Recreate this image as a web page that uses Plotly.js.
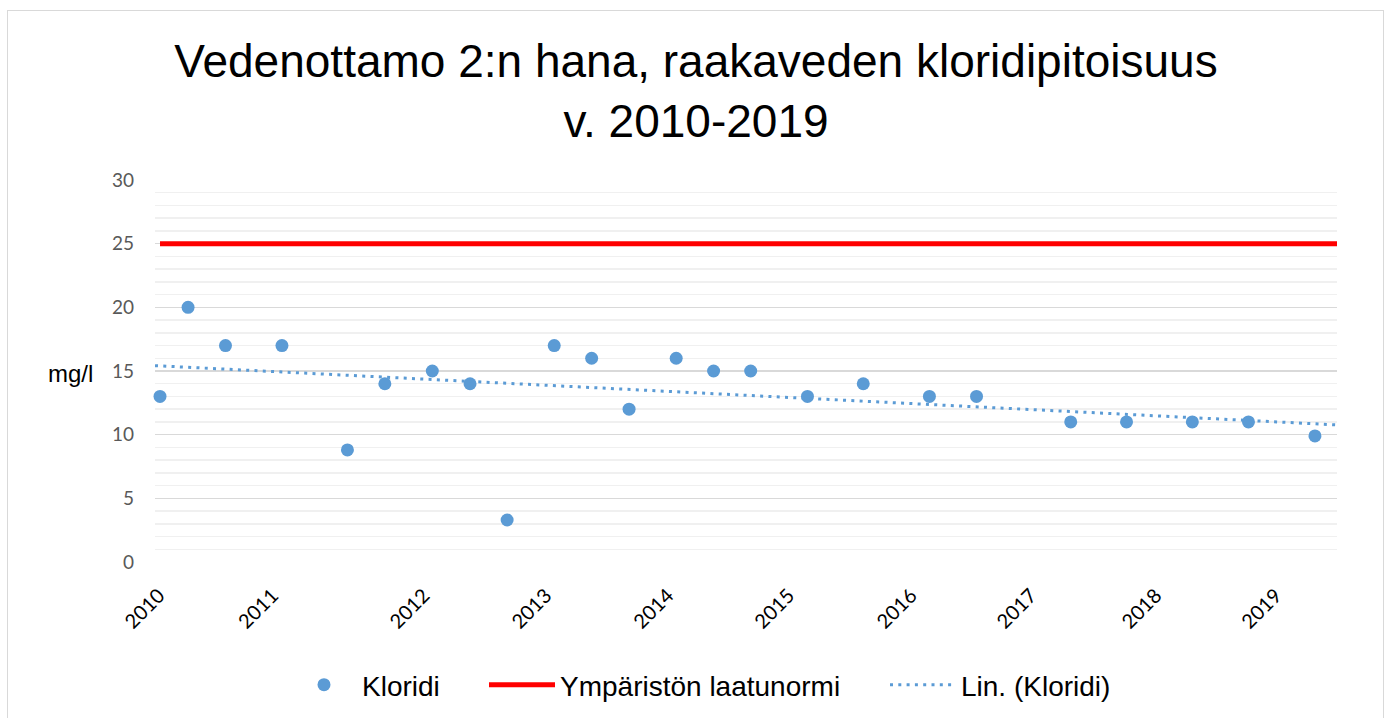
<!DOCTYPE html>
<html>
<head>
<meta charset="utf-8">
<script src="https://cdn.plot.ly/plotly-3.0.1.min.js"></script>
<style>
html,body{margin:0;padding:0;background:#fff;}
#wrap{position:relative;width:1392px;height:718px;}
#chart{width:1392px;height:718px;}
#frame{position:absolute;left:7px;top:10px;width:1377px;height:720px;border:1.5px solid #d9d9d9;pointer-events:none;box-sizing:border-box;}
</style>
</head>
<body>
<div id="wrap"><div id="chart"></div><div id="frame"></div></div>
<script>
// Sample dates (read from the horizontal positions of the points)
const sampleDates = [
  '2010-01-01','2010-03-26','2010-07-16',
  '2011-01-01','2011-07-16','2011-11-05',
  '2012-03-26','2012-07-17','2012-11-05',
  '2013-03-26','2013-07-16','2013-11-05',
  '2014-03-26','2014-07-16','2014-11-04',
  '2015-04-23','2015-10-07',
  '2016-04-22','2016-09-10',
  '2017-06-19','2017-12-03',
  '2018-06-18','2018-12-03',
  '2019-06-20'
];
// Chloride, mg/l
const chloride = [
  13, 20, 17,
  17, 8.8, 14,
  15, 14, 3.3,
  17, 16, 12,
  16, 15, 15,
  13, 14,
  13, 13,
  11, 11,
  11, 11,
  9.9
];
// Environmental quality norm, mg/l
const normValue = 25;
// Year tick labels and where they sit
const yearLabels = ['2010','2011','2012','2013','2014','2015','2016','2017','2018','2019'];
const yearTickDates = ['2009-12-29','2010-12-04','2012-03-01','2013-03-01','2014-03-01',
                       '2015-02-26','2016-02-27','2017-02-20','2018-03-01','2019-02-23'];
const xRange = ['2009-12-17','2019-08-25'];
const yTicks = [0,5,10,15,20,25,30];

// Linear trend (least squares) of chloride against time
const toMs = d => Date.parse(d + 'T00:00:00Z');
const tx = sampleDates.map(toMs);
const n = tx.length;
const mx = tx.reduce((a,b)=>a+b,0)/n;
const my = chloride.reduce((a,b)=>a+b,0)/n;
let sxy = 0, sxx = 0;
for (let i=0;i<n;i++){ sxy += (tx[i]-mx)*(chloride[i]-my); sxx += (tx[i]-mx)*(tx[i]-mx); }
const slope = sxy/sxx;
const icpt = my - slope*mx;
const trendX = xRange;
const trendY = xRange.map(d => icpt + slope*toMs(d));

const blue = '#5b9bd5';
const traces = [
  {
    type:'scatter', mode:'markers', name:'Kloridi',
    x: sampleDates, y: chloride,
    marker:{color:blue, size:13},
    cliponaxis:false, legend:'legend'
  },
  {
    type:'scatter', mode:'lines', name:'Ympäristön laatunormi',
    x:[sampleDates[0], xRange[1]], y:[normValue, normValue],
    line:{color:'#ff0000', width:5}, legend:'legend2'
  },
  {
    type:'scatter', mode:'lines', name:'Lin. (Kloridi)',
    x: trendX, y: trendY,
    line:{color:blue, width:3, dash:'3px,5.3px'}, legend:'legend3'
  }
];

const legFont = {family:'Liberation Sans, Arial, sans-serif', size:28, color:'#000'};
const legBase = (xpx) => ({
  orientation:'h', x:xpx/1392, xanchor:'left', xref:'container',
  y:1-660/718, yref:'container', yanchor:'top',
  font:legFont, itemwidth:66, bgcolor:'rgba(0,0,0,0)'
});

const layout = {
  width:1392, height:718,
  paper_bgcolor:'#fff', plot_bgcolor:'#fff',
  margin:{l:155, r:55, t:180, b:156},
  title:{
    text:'Vedenottamo 2:n hana, raakaveden kloridipitoisuus<br>v. 2010-2019',
    font:{family:'Liberation Sans, Arial, sans-serif', size:46, color:'#000'},
    x:0.5, xref:'container', xanchor:'center',
    y:1-77/718, yref:'container', yanchor:'top'
  },
  showlegend:true,
  legend: legBase(286),
  legend2: legBase(484),
  legend3: legBase(885),
  xaxis:{
    type:'date', range:xRange,
    tickmode:'array', tickvals:yearTickDates, ticktext:yearLabels,
    tickangle:-45, ticks:'', showgrid:false, zeroline:false, showline:false,
    tickfont:{family:'Lato, Carlito, sans-serif', size:20, color:'#000'},
    ticklabelstandoff:17
  },
  yaxis:{
    range:[0,30], tickmode:'array', tickvals:yTicks,
    showgrid:true, gridcolor:'#d9d9d9', gridwidth:1.3,
    zeroline:false, showline:false, ticks:'',
    tickfont:{family:'Lato, Carlito, sans-serif', size:19, color:'#595959'},
    ticklabelstandoff:20,
    minor:{dtick:1, showgrid:true, gridcolor:'#f0f0f0', gridwidth:1.5}
  },
  annotations:[{
    text:'mg/l', xref:'paper', yref:'paper', x:(70-155)/1182, y:(562-373)/382,
    xanchor:'center', yanchor:'middle', showarrow:false,
    font:{family:'Liberation Sans, Arial, sans-serif', size:24, color:'#000'}
  }]
};

Plotly.newPlot('chart', traces, layout, {displayModeBar:false, staticPlot:true});
</script>
</body>
</html>
